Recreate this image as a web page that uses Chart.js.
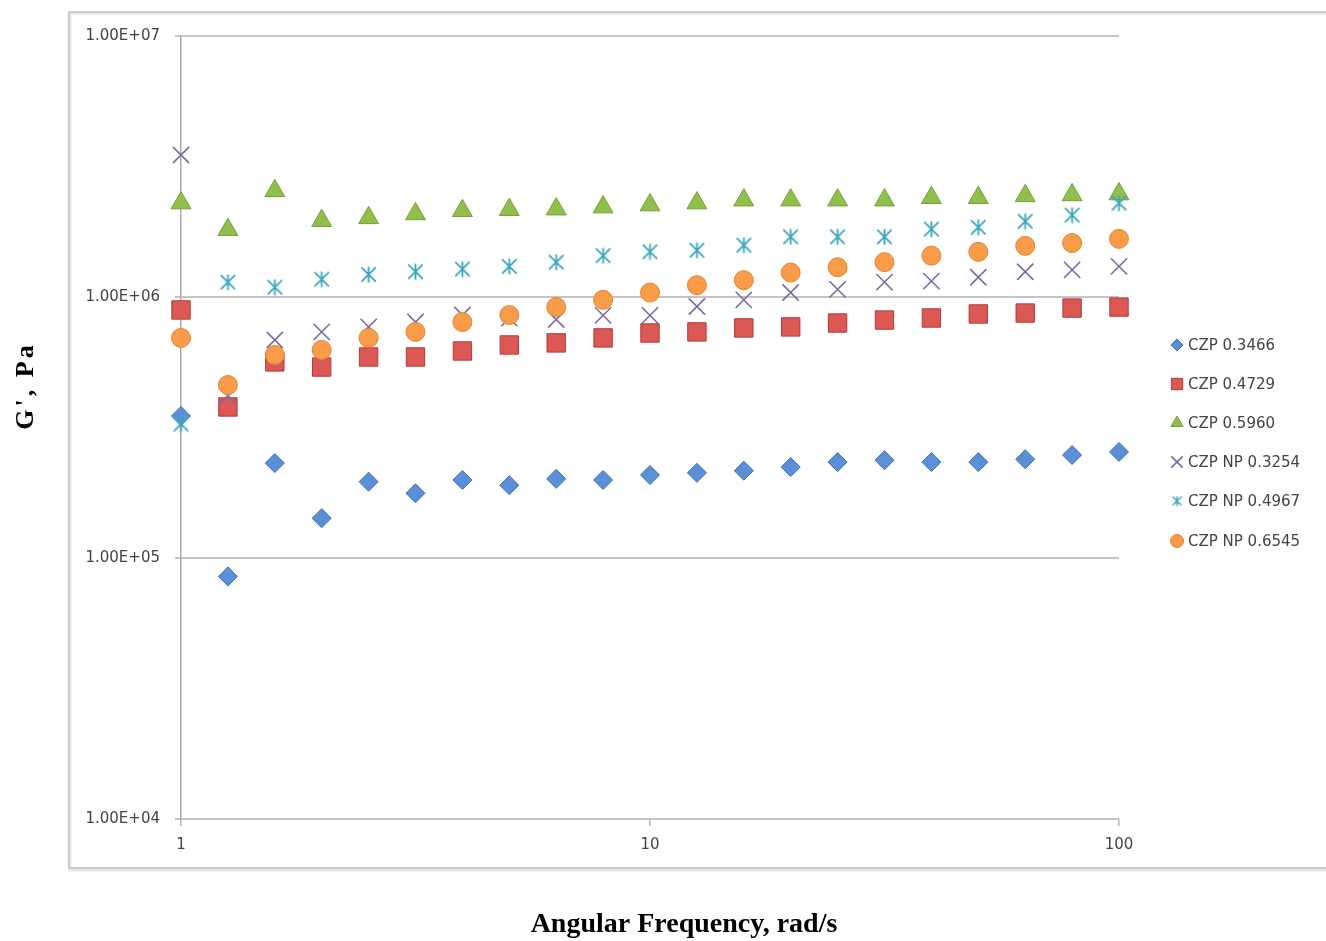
<!DOCTYPE html>
<html><head><meta charset="utf-8">
<script src="https://cdn.jsdelivr.net/npm/chart.js@4.4.1/dist/chart.umd.min.js"></script>
<style>html,body{margin:0;padding:0;background:#fff;overflow:hidden}#wrap{width:1326px;height:941px;position:relative}</style>
</head><body><div id="wrap"><canvas id="c" width="1326" height="941"></canvas></div>
<script>
// ---- data ----
const frequency = [1, 1.259, 1.585, 1.995, 2.512, 3.162, 3.981, 5.012, 6.310, 7.943, 10, 12.59, 15.85, 19.95, 25.12, 31.62, 39.81, 50.12, 63.10, 79.43, 100];
const seriesNames = ['CZP 0.3466', 'CZP 0.4729', 'CZP 0.5960', 'CZP NP 0.3254', 'CZP NP 0.4967', 'CZP NP 0.6545'];
const czp3466 = [3.50e5, 8.5e4, 2.31e5, 1.42e5, 1.96e5, 1.77e5, 1.99e5, 1.90e5, 2.01e5, 1.99e5, 2.08e5, 2.12e5, 2.16e5, 2.23e5, 2.33e5, 2.37e5, 2.33e5, 2.33e5, 2.39e5, 2.48e5, 2.55e5];
const czp4729 = [8.92e5, 3.79e5, 5.64e5, 5.39e5, 5.89e5, 5.89e5, 6.21e5, 6.55e5, 6.67e5, 6.97e5, 7.28e5, 7.35e5, 7.61e5, 7.68e5, 7.95e5, 8.16e5, 8.31e5, 8.61e5, 8.68e5, 9.07e5, 9.15e5];
const czp5960 = [2.29e6, 1.81e6, 2.55e6, 1.96e6, 2.01e6, 2.08e6, 2.14e6, 2.16e6, 2.17e6, 2.21e6, 2.25e6, 2.29e6, 2.35e6, 2.35e6, 2.35e6, 2.35e6, 2.40e6, 2.40e6, 2.44e6, 2.46e6, 2.48e6];
const czpNP3254 = [3.50e6, 4.2e5, 6.84e5, 7.35e5, 7.68e5, 8.02e5, 8.53e5, 8.3e5, 8.2e5, 8.5e5, 8.5e5, 9.2e5, 9.75e5, 1.04e6, 1.07e6, 1.14e6, 1.15e6, 1.19e6, 1.25e6, 1.27e6, 1.31e6];
const czpNP4967 = [3.26e5, 1.14e6, 1.09e6, 1.17e6, 1.22e6, 1.25e6, 1.28e6, 1.31e6, 1.36e6, 1.44e6, 1.49e6, 1.51e6, 1.58e6, 1.70e6, 1.70e6, 1.70e6, 1.82e6, 1.85e6, 1.95e6, 2.06e6, 2.29e6];
const czpNP6545 = [6.97e5, 4.60e5, 6.0e5, 6.27e5, 6.97e5, 7.35e5, 8.02e5, 8.53e5, 9.15e5, 9.75e5, 1.04e6, 1.11e6, 1.16e6, 1.24e6, 1.30e6, 1.36e6, 1.44e6, 1.49e6, 1.57e6, 1.61e6, 1.67e6];
const xTickValues = [1, 10, 100];
const yTickValues = [1e4, 1e5, 1e6, 1e7];
const xTitle = 'Angular Frequency, rad/s';
const yTitle = "G', Pa";

// ---- styles ----
function makeAsterisk(size, color, lw) {
  const c = document.createElement('canvas');
  c.width = size; c.height = size;
  const g = c.getContext('2d');
  g.strokeStyle = color; g.lineWidth = lw; g.lineCap = 'round';
  const m = lw, s = size - lw;
  g.beginPath();
  g.moveTo(m, m); g.lineTo(s, s);
  g.moveTo(s, m); g.lineTo(m, s);
  g.moveTo(size / 2, m - 0.5); g.lineTo(size / 2, s + 0.5);
  g.stroke();
  return c;
}
const asteriskBig = makeAsterisk(17, '#3aa6bd', 1.8);
const asteriskSmall = makeAsterisk(11, '#3aa6bd', 1.4);

const styles = [
  {pointStyle: 'rectRot', radius: 9.5, bg: '#5b8fd8', border: '#3f6fb5', bw: 1, lr: 6},
  {pointStyle: 'rect', radius: 13, bg: '#db5855', border: '#b23a38', bw: 1, lr: 8},
  {pointStyle: 'triangle', radius: 11.5, bg: '#92bf4c', border: '#74a03a', bw: 1, lr: 7},
  {pointStyle: 'crossRot', radius: 11.5, bg: '#7a6ca3', border: '#7a6ca3', bw: 1.6, lr: 8},
  {pointStyle: asteriskBig, radius: 9, bg: '#3aa6bd', border: '#3aa6bd', bw: 1.6, lr: 6, legendImg: asteriskSmall},
  {pointStyle: 'circle', radius: 9.5, bg: '#f89c4a', border: '#e28532', bw: 1, lr: 6.5}
];
const allSeries = [czp3466, czp4729, czp5960, czpNP3254, czpNP4967, czpNP6545];

const datasets = allSeries.map((vals, i) => ({
  label: seriesNames[i],
  data: vals.map((v, k) => ({x: frequency[k], y: v})),
  showLine: false,
  clip: false,
  pointStyle: styles[i].pointStyle,
  pointRadius: styles[i].radius,
  pointHoverRadius: styles[i].radius,
  backgroundColor: styles[i].bg,
  borderColor: styles[i].border,
  pointBorderWidth: styles[i].bw,
  order: allSeries.length - 1 - i
}));

function fmtE(v) {
  const e = Math.round(Math.log10(v));
  const m = v / Math.pow(10, e);
  return m.toFixed(2) + 'E' + (e >= 0 ? '+' : '-') + String(Math.abs(e)).padStart(2, '0');
}

const decor = {
  id: 'decor',
  beforeDraw(chart) {
    const ctx = chart.ctx;
    ctx.save();
    ctx.fillStyle = '#ffffff';
    ctx.fillRect(0, 0, chart.width, chart.height);
    ctx.strokeStyle = '#e6e6e6';
    ctx.lineWidth = 3;
    ctx.strokeRect(70, 13, 1300, 857);
    ctx.strokeStyle = '#cccccc';
    ctx.lineWidth = 2;
    ctx.strokeRect(69, 12, 1300, 856);
    ctx.restore();
  },
  afterDraw(chart) {
    const ctx = chart.ctx;
    ctx.save();
    // axis titles
    ctx.fillStyle = '#000';
    ctx.textAlign = 'center';
    ctx.textBaseline = 'middle';
    ctx.font = 'bold 28px "Liberation Serif", "Times New Roman", serif';
    ctx.fillText(xTitle, 684, 925);
    ctx.translate(26, 386);
    ctx.rotate(-Math.PI / 2);
    ctx.font = 'bold 26px "Liberation Serif", "Times New Roman", serif';
    try { ctx.letterSpacing = '3px'; } catch (e) {}
    ctx.fillText(yTitle, 0, 0);
    ctx.restore();

    // legend
    ctx.save();
    const rowY = [345, 384, 423, 462, 501, 541];
    ctx.font = '15px "DejaVu Sans", sans-serif';
    ctx.textAlign = 'left';
    ctx.textBaseline = 'middle';
    for (let i = 0; i < seriesNames.length; i++) {
      const st = styles[i];
      const y = rowY[i];
      const x = 1177;
      ctx.fillStyle = st.bg;
      ctx.strokeStyle = st.border;
      ctx.lineWidth = st.bw;
      const ps = st.legendImg || st.pointStyle;
      if (Chart.helpers && Chart.helpers.drawPoint) {
        Chart.helpers.drawPoint(ctx, {pointStyle: ps, radius: st.lr, borderWidth: st.bw, rotation: 0}, x, y);
      }
      ctx.fillStyle = '#444';
      ctx.fillText(seriesNames[i], 1188, y + 1);
    }
    ctx.restore();
  }
};

new Chart(document.getElementById('c'), {
  type: 'scatter',
  data: {datasets},
  options: {
    responsive: false,
    devicePixelRatio: 1,
    animation: false,
    events: [],
    layout: {padding: {left: 0, right: 207, top: 36, bottom: 0}},
    plugins: {legend: {display: false}, tooltip: {enabled: false}},
    scales: {
      x: {
        type: 'logarithmic',
        min: 1, max: 100,
        afterBuildTicks: s => { s.ticks = xTickValues.map(v => ({value: v})); },
        afterFit: s => { s.height = 941 - 819; },
        ticks: {
          callback: v => String(v),
          font: {family: '"DejaVu Sans", sans-serif', size: 15},
          color: '#444',
          padding: 10,
          maxRotation: 0, autoSkip: false
        },
        grid: {display: true, drawOnChartArea: false, drawTicks: true, tickLength: 7, color: '#b8b8b8', lineWidth: 1.5},
        border: {display: true, color: '#c4c4c4', width: 2}
      },
      y: {
        type: 'logarithmic',
        min: 1e4, max: 1e7,
        afterBuildTicks: s => { s.ticks = yTickValues.map(v => ({value: v})); },
        afterFit: s => { s.width = 181; },
        ticks: {
          callback: v => fmtE(v),
          font: {family: '"DejaVu Sans", sans-serif', size: 15},
          color: '#444',
          padding: 15,
          autoSkip: false
        },
        grid: {color: '#c4c4c4', lineWidth: 2, drawTicks: true, tickLength: 6},
        border: {display: true, color: '#a8a8a8', width: 1.5}
      }
    }
  },
  plugins: [decor]
});
</script>
</body></html>
